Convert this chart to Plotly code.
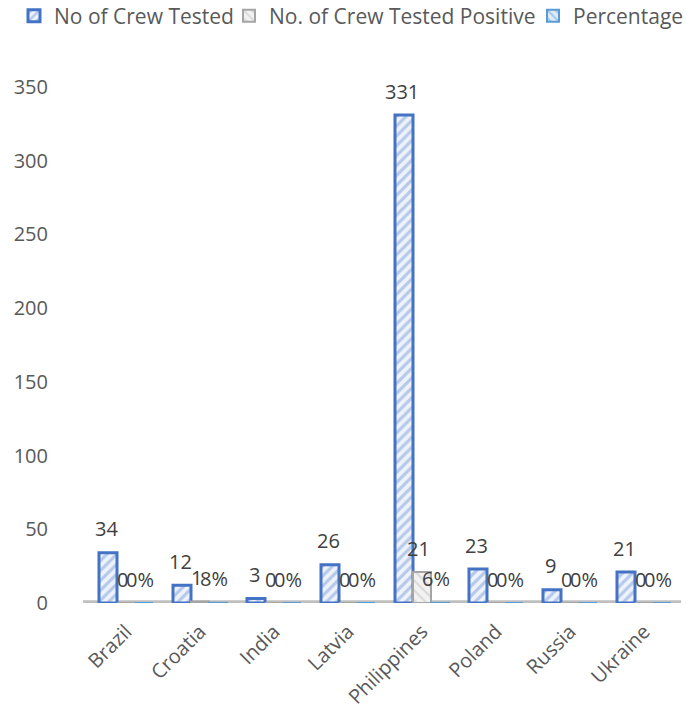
import plotly.graph_objects as go

countries = ["Brazil", "Croatia", "India", "Latvia", "Philippines", "Poland", "Russia", "Ukraine"]
crew_tested = [34, 12, 3, 26, 331, 23, 9, 21]
crew_positive = [0, 1, 0, 0, 21, 0, 0, 0]
percentage = [0.0, 0.08, 0.0, 0.0, 0.06, 0.0, 0.0, 0.0]
pct_labels = ["0%", "8%", "0%", "0%", "6%", "0%", "0%", "0%"]
y_ticks = [0, 50, 100, 150, 200, 250, 300, 350]

FONT = "'Open Sans', sans-serif"
TXT = "#404040"
AX = "#595959"
W, H = 687, 711

fig = go.Figure()
fig.add_trace(go.Bar(
    name="No of Crew Tested", x=countries, y=crew_tested, legend="legend",
    marker=dict(color="#DCE6F5", line=dict(color="#4472C4", width=3),
                pattern=dict(shape="/", fgcolor="#7F9FD8", bgcolor="#EEF3FB", size=7, solidity=0.45)),
))
fig.add_trace(go.Bar(
    name="No. of Crew Tested Positive", x=countries, y=crew_positive, legend="legend2",
    marker=dict(color="#E0E0E0", line=dict(color="#A5A5A5", width=2),
                pattern=dict(shape="\\", fgcolor="#BFBFBF", bgcolor="#F2F2F2", size=7, solidity=0.3)),
))
fig.add_trace(go.Bar(
    name="Percentage", x=countries, y=percentage, legend="legend3",
    marker=dict(color="#BDD7EE", line=dict(color="#5B9BD5", width=2),
                pattern=dict(shape="\\", fgcolor="#5B9BD5", bgcolor="#DEEBF7", size=7, solidity=0.3)),
))

# floor
fig.add_shape(type="rect", xref="paper", yref="y", x0=-0.01, x1=1.0, y0=-1.2, y1=1.8,
              fillcolor="#BFBFBF", line=dict(width=0), layer="below")

# data labels
for c, v in zip(countries, crew_tested):
    fig.add_annotation(x=c, y=v, text=str(v), showarrow=False, xshift=-20, yshift=24,
                       font=dict(size=20, color=TXT, family=FONT))
for c, v in zip(countries, crew_positive):
    fig.add_annotation(x=c, y=v, text=str(v), showarrow=False, xshift=-4, yshift=24,
                       font=dict(size=20, color=TXT, family=FONT))
for c, v, t in zip(countries, percentage, pct_labels):
    fig.add_annotation(x=c, y=v, text=t, showarrow=False, xshift=14, yshift=24,
                       font=dict(size=20, color=TXT, family=FONT))


def leg(xpx):
    return dict(orientation="h", xref="container", yref="container", x=xpx / W, xanchor="left",
                y=1 - 16 / H, yanchor="middle", font=dict(size=21, color=AX, family=FONT),
                itemwidth=30, bgcolor="rgba(0,0,0,0)", borderwidth=0)


fig.update_layout(
    width=W, height=H,
    margin=dict(l=89, r=6, t=87, b=108),
    paper_bgcolor="white", plot_bgcolor="white",
    barmode="group", bargap=0.27, bargroupgap=0.0,
    font=dict(family=FONT, color=AX, size=20),
    showlegend=True,
    legend=leg(14), legend2=leg(229), legend3=leg(533),
    xaxis=dict(showgrid=False, showline=False, zeroline=False, tickangle=-45, automargin=False,
               tickfont=dict(size=20, color=AX), ticks="", ticklabelstandoff=12),
    yaxis=dict(range=[0, 350], tickvals=y_ticks, showgrid=False, showline=False, zeroline=False,
               automargin=False, tickfont=dict(size=20, color=AX), ticklabelstandoff=40),
)

fig.write_html("out.html")
